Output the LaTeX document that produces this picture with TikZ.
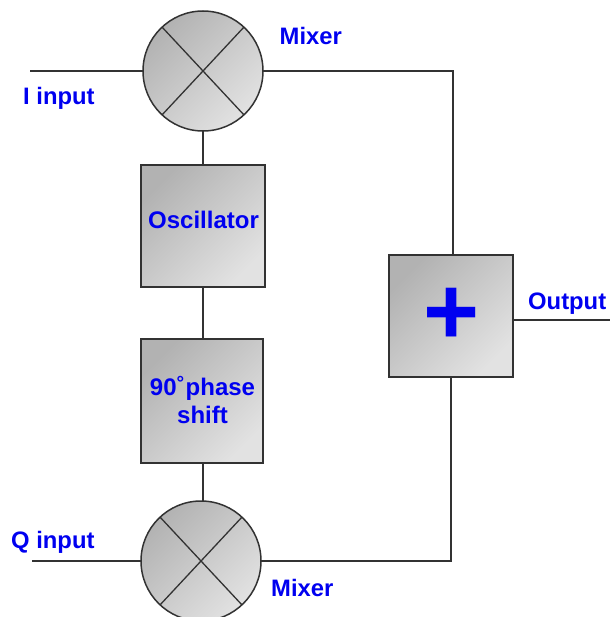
\documentclass[tikz,border=0pt]{standalone}
\usepackage{fontspec}
\setmainfont{Liberation Sans}
\definecolor{txtblue}{RGB}{0,0,240}
\definecolor{wirec}{RGB}{50,50,50}
\definecolor{gradlo}{RGB}{178,178,178}
\definecolor{gradhi}{RGB}{226,226,226}
\tikzset{
  grad/.style={draw=wirec,line width=1.5pt,top color=gradlo,bottom color=gradhi,shading angle=45,inner sep=0pt,outer sep=0pt},
  boxn/.style={grad,rectangle,minimum width=#1},
  mixern/.style={grad,circle,minimum size=120pt},
  wire/.style={draw=wirec,line width=1.3pt},
  lab/.style={text=txtblue,font=\fontsize{23.8}{27}\selectfont\bfseries,inner sep=0pt},
  boxlab/.style={text=txtblue,font=\fontsize{24}{28}\selectfont\bfseries,inner sep=0pt,align=center}
}
\begin{document}
\begin{tikzpicture}[x=1pt,y=-1pt]
\useasboundingbox (0,0) rectangle (610,617);
% nodes
\node[mixern] (m1) at (203,71) {};
\node[mixern] (m2) at (201,561) {};
\node[boxn=124pt,minimum height=122pt] (osc) at (203,226) {};
\node[boxn=122pt,minimum height=124pt] (ph) at (202,401) {};
\node[boxn=124pt,minimum height=122pt] (sum) at (451,316) {};
\node[boxlab] (osct) at (203.5,220) {Oscillator};
\node[boxlab] (pht) at (202.5,400) {90\raisebox{0.22em}{\fontsize{19}{19}\selectfont °}\hspace{1.5pt}phase\\shift};
\node[text=txtblue,font=\fontsize{96}{96}\selectfont\bfseries,inner sep=0pt] (plus) at (452,316) {+};
\node[lab,anchor=west] (l1) at (23,98) {I input};
\node[lab,anchor=west] (l2) at (11,542) {Q input};
\node[lab,anchor=west] (l3) at (279.5,36) {Mixer};
\node[lab,anchor=west] (l4) at (271,588) {Mixer};
\node[lab,anchor=west] (l5) at (528,304) {Output};
% free ends and corners
\coordinate (iin) at (30,71);
\coordinate (qin) at (32,561);
\coordinate (out) at (610,320);
\coordinate (sumo) at (sum.east |- out);
\coordinate (c1) at (453,71);
\coordinate (s1) at (453,255);
\coordinate (c2) at (451,561);
\coordinate (m2t) at (203,501);
\coordinate (phb) at (203,463);
% connectors
\draw[wire] (iin) -- (m1.west);
\draw[wire] (qin) -- (m2.west);
\draw[wire] (m1.east) -- (c1) -- (s1);
\draw[wire] (m2.east) -- (c2) -- (sum.south);
\draw[wire] (m1.south) -- (osc.north);
\draw[wire] (osc.south) -- (osc.south |- ph.north);
\draw[wire] (phb) -- (m2t);
\draw[wire] (sumo) -- (out);
% mixer crosses
\draw[wire] (m1.133) -- (m1.313);
\draw[wire] (m1.47) -- (m1.227);
\draw[wire] (m2.133) -- (m2.313);
\draw[wire] (m2.47) -- (m2.227);
\end{tikzpicture}
\end{document}
